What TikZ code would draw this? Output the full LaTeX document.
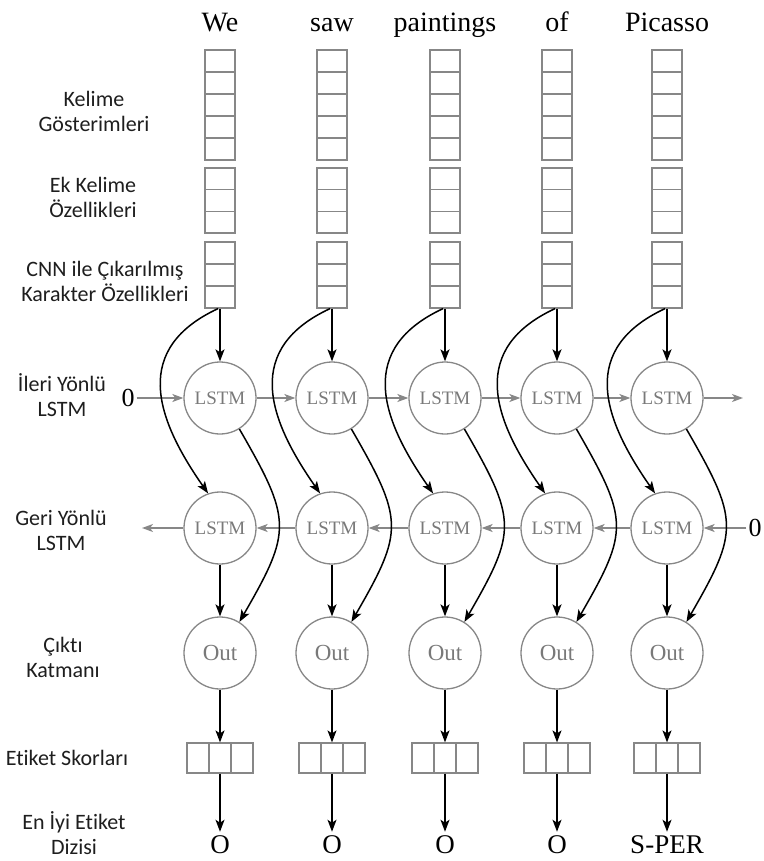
\documentclass[tikz,border=0pt]{standalone}
\usepackage{fontspec}
\setmainfont{Liberation Serif}
\newfontfamily\lblfont[Ligatures=NoCommon]{Carlito}
\usetikzlibrary{arrows.meta}
\definecolor{gline}{RGB}{135,135,135}
\definecolor{ltxt}{RGB}{30,30,30}
\begin{document}
\begin{tikzpicture}[x=1pt,y=-1pt,
  cell/.style={draw=gline, line width=1.2pt, minimum width=30pt, minimum height=22pt, inner sep=0pt},
  cellb/.style={cell, minimum height=21.67pt},
  score/.style={draw=gline, line width=1.2pt, minimum width=22pt, minimum height=30pt, inner sep=0pt},
  unit/.style={circle, draw=gline, line width=1.3pt, minimum size=72pt, inner sep=0pt, text=gline!90!black},
  lstmtxt/.style={font=\fontsize{19}{20}\selectfont},
  outtxt/.style={font=\fontsize{23}{24}\selectfont},
  word/.style={font=\fontsize{28}{30}\selectfont, anchor=base, inner sep=0pt},
  tag/.style={font=\fontsize{27}{28}\selectfont, inner sep=4pt},
  zero/.style={font=\fontsize{26}{27}\selectfont, inner sep=2pt},
  lbl/.style={font=\lblfont\fontsize{22}{25}\selectfont, text=ltxt, align=center, inner sep=0pt},
  barrow/.style={draw=black, line width=1.5pt, -{Stealth[length=12pt,width=9pt,inset=3pt]}},
  garrow/.style={draw=gline, line width=1.4pt, -{Stealth[length=11pt,width=8pt,inset=3pt]}}
]
\useasboundingbox (0,0) rectangle (763,861);

% left labels
\node[lbl] (l1) at (94,111) {Kelime\\Gösterimleri};
\node[lbl] (l2) at (93,197) {Ek Kelime\\Özellikleri};
\node[lbl] (l3) at (105,281) {CNN ile Çıkarılmış\\Karakter Özellikleri};
\node[lbl] (l4) at (62,395) {İleri Yönlü\\LSTM};
\node[lbl] (l5) at (61,530) {Geri Yönlü\\LSTM};
\node[lbl] (l6) at (63,657) {Çıktı\\Katmanı};
\node[lbl] (l7) at (67,758) {Etiket Skorları};
\node[lbl] (l8) at (74,833) {En İyi Etiket\\Dizisi};

\foreach \x/\w/\t [count=\i] in {220/We/O, 332/saw/O, 445/paintings/O, 557/of/O, 667/Picasso/S-PER} {
  \node[word] (w\i) at (\x,32) {\w};
  \foreach \k/\y in {1/61,2/83,3/105,4/127,5/149}
    \node[cell] (e\i-\k) at (\x,\y) {};
  \foreach \k/\y in {1/178.8,2/200.5,3/222.2}
    \node[cellb] (k\i-\k) at (\x,\y) {};
  \foreach \k/\y in {1/253,2/275,3/297}
    \node[cell] (c\i-\k) at (\x,\y) {};
  \node[unit, lstmtxt] (f\i) at (\x,398) {LSTM};
  \node[unit, lstmtxt] (b\i) at (\x,528) {LSTM};
  \node[unit, outtxt] (o\i) at (\x,653) {Out};
  \node[score] (s\i-1) at (\x-22,758) {};
  \node[score] (s\i-2) at (\x,758) {};
  \node[score] (s\i-3) at (\x+22,758) {};
  \node[tag] (t\i) at (\x,845) {\t};
}

% recurrent connections
\node[zero] (zf) at (128,398) {0};
\node[zero] (zb) at (755,528) {0};
\coordinate (fend) at (743,398);
\coordinate (bend) at (142,528);
\draw[garrow] (zf.east) -- (f1.west);
\foreach \i/\j in {1/2,2/3,3/4,4/5} \draw[garrow] (f\i.east) -- (f\j.west);
\draw[garrow] (f5.east) -- (fend);
\draw[garrow] (zb.west) -- (b5.east);
\foreach \i/\j in {2/1,3/2,4/3,5/4} \draw[garrow] (b\i.west) -- (b\j.east);
\draw[garrow] (b1.west) -- (bend);

% black connections
\foreach \i in {1,...,5} {
  \draw[barrow] (c\i-3.south) -- (f\i.north);
  \draw[barrow] ([xshift=-2pt]c\i-3.south) to[out=205,in=125,looseness=1.3] (b\i.109);
  \draw[barrow] (f\i.-58) to[out=-60,in=60,looseness=1.4] (o\i.58);
  \draw[barrow] (b\i.south) -- (o\i.north);
  \draw[barrow] (o\i.south) -- (s\i-2.north);
  \draw[barrow] (s\i-2.south) -- (t\i.north);
}
\end{tikzpicture}
\end{document}
